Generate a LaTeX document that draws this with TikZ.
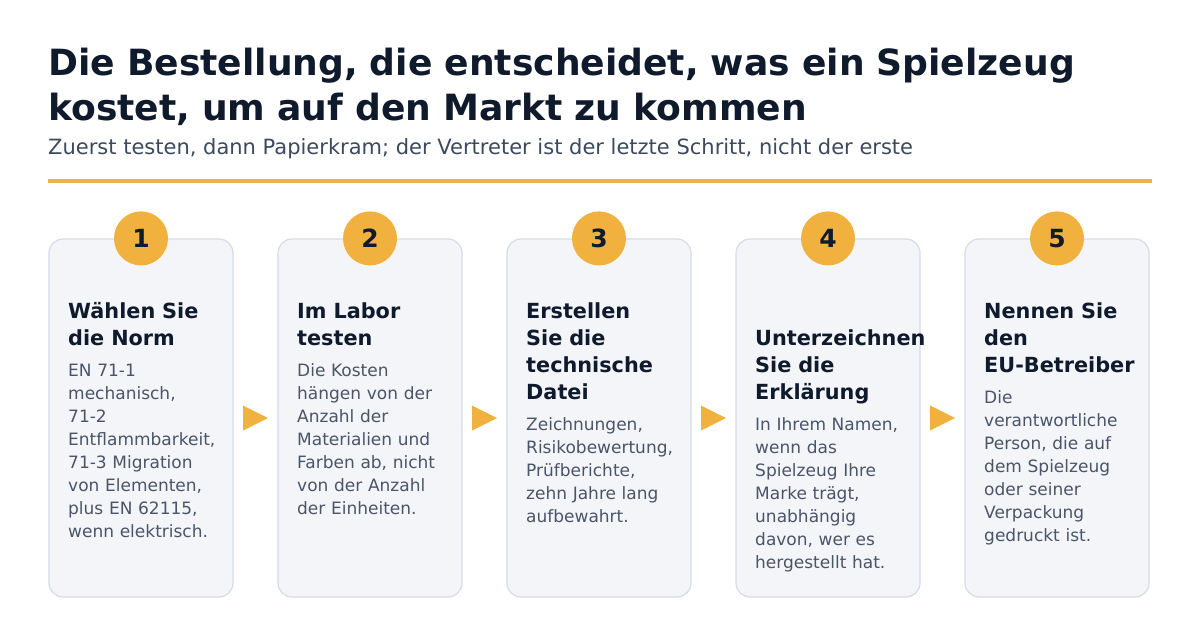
\documentclass[tikz,border=0pt]{standalone}
\usepackage{fontspec}
\setmainfont{DejaVu Sans}
\usetikzlibrary{calc}
\definecolor{ink}{HTML}{0F1B2D}
\definecolor{subc}{HTML}{3B4A5E}
\definecolor{bodyc}{HTML}{4A5568}
\definecolor{gold}{HTML}{F0B13E}
\definecolor{rulec}{HTML}{E8B44C}
\definecolor{cardfill}{HTML}{F3F5F9}
\definecolor{cardline}{HTML}{D6DCE5}
\begin{document}
\begin{tikzpicture}[x=1pt,y=-1pt,
  card/.style={draw=cardline, line width=1.2pt, fill=cardfill, rounded corners=14pt, minimum width=184pt, minimum height=358pt, inner sep=0pt},
  badge/.style={circle, fill=gold, minimum size=54pt, inner sep=0pt, font=\fontsize{25}{25}\selectfont\bfseries, text=ink},
  head/.style={anchor=base west, text width=200pt, align=left, inner sep=0pt, font=\fontsize{20.8}{27}\selectfont\bfseries, text=ink},
  txt/.style={anchor=base west, text width=200pt, align=left, inner sep=0pt, font=\fontsize{17}{23}\selectfont, text=bodyc},
  tri/.style={fill=gold, draw=none}]
\useasboundingbox (0,0) rectangle (1200,637);
\fill[white] (0,0) rectangle (1200,637);
\node[anchor=base west, text width=1140pt, align=left, inner sep=0pt, font=\fontsize{36.1}{45}\selectfont\bfseries, text=ink] (title) at (48,75) {Die Bestellung, die entscheidet, was ein Spielzeug\\kostet, um auf den Markt zu kommen};
\node[anchor=base west, inner sep=0pt, font=\fontsize{21}{24}\selectfont, text=subc] (subtitle) at (48,154) {Zuerst testen, dann Papierkram; der Vertreter ist der letzte Schritt, nicht der erste};
\coordinate (rl) at (48,181);
\coordinate (rr) at (1152,181);
\draw[rulec, line width=4pt] (rl) -- (rr);
\foreach \i/\x in {1/141,2/370,3/599,4/828,5/1057}{
  \node[card] (c\i) at (\x,418) {};
  \node[badge] (b\i) at (c\i.north) {\i};
}
\foreach \a/\b in {1/2,2/3,3/4,4/5}{
  \coordinate (m\a) at ($(c\a.east)!0.5!(c\b.west)$);
  \fill[tri] (m\a) ++(-12.5,-12.5) -- ++(25,12.5) -- ++(-25,12.5) -- cycle;
}
% card 1
\node[head] (h1) at (68,318) {Wählen Sie\\die Norm};
\node[txt] (t1) at (68,376) {EN 71-1\\mechanisch,\\71-2\\Entflammbarkeit,\\71-3 Migration\\von Elementen,\\plus EN 62115,\\wenn elektrisch.};
% card 2
\node[head] (h2) at (297,318) {Im Labor\\testen};
\node[txt] (t2) at (297,376) {Die Kosten\\hängen von der\\Anzahl der\\Materialien und\\Farben ab, nicht\\von der Anzahl\\der Einheiten.};
% card 3
\node[head] (h3) at (526,318) {Erstellen\\Sie die\\technische\\Datei};
\node[txt] (t3) at (526,430) {Zeichnungen,\\Risikobewertung,\\Prüfberichte,\\zehn Jahre lang\\aufbewahrt.};
% card 4
\node[head] (h4) at (755,345) {Unterzeichnen\\Sie die\\Erklärung};
\node[txt] (t4) at (755,430) {In Ihrem Namen,\\wenn das\\Spielzeug Ihre\\Marke trägt,\\unabhängig\\davon, wer es\\hergestellt hat.};
% card 5
\node[head] (h5) at (984,318) {Nennen Sie\\den\\EU-Betreiber};
\node[txt] (t5) at (984,403) {Die\\verantwortliche\\Person, die auf\\dem Spielzeug\\oder seiner\\Verpackung\\gedruckt ist.};
\end{tikzpicture}
\end{document}
